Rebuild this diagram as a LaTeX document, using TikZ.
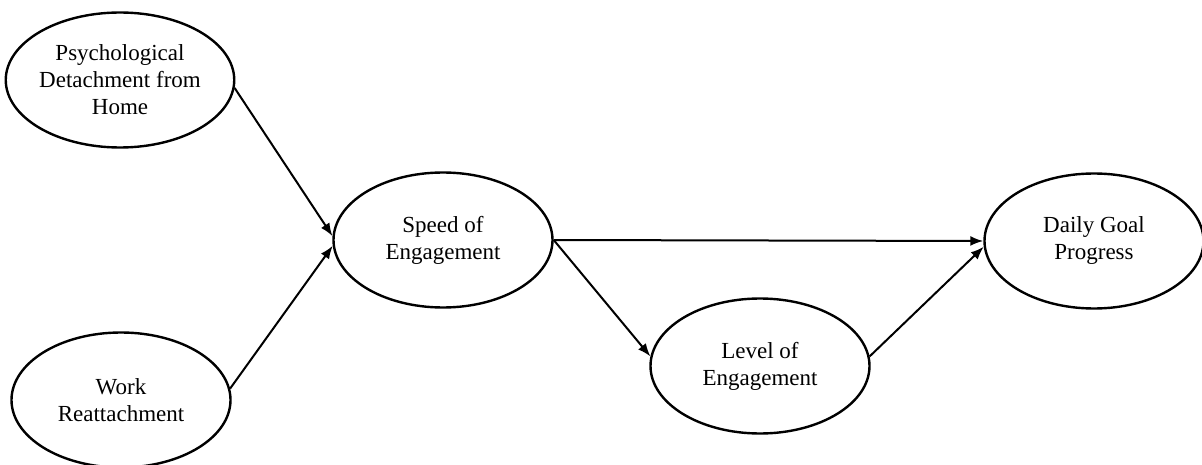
\documentclass[tikz,border=0pt]{standalone}
\usepackage{fontspec}
\setmainfont{Liberation Serif}
\usetikzlibrary{arrows.meta,shapes.geometric}

\begin{document}
\begin{tikzpicture}[x=1pt,y=-1pt,
	latent/.style	={ellipse,draw,line width=2.4pt,inner sep=0pt,minimum width=219pt,minimum height=135pt,align=center,font=\fontsize{23}{27}\selectfont},
	paths/.style	={->, line width=2pt, >={Latex[length=13pt,width=10pt]}},
	]
	\useasboundingbox (0,0) rectangle (1202,465);
	
	\node [latent] (PD) at (120,80) {Psychological\\ Detachment from\\ Home};
	\node [latent] (WR) at (121,400) {Work\\ Reattachment};
	\node [latent] (SE) at (443,240) {Speed of\\ Engagement};
	\node [latent] (LE) at (760,366) {Level of\\ Engagement};
	\node [latent] (DG) at (1094,241) {Daily Goal\\ Progress};
	
	\foreach \src/\dst in {PD.356/SE.178, WR.6/SE.183}
	{
		\draw [paths] (\src) to (\dst);
	}
	
	\draw [paths] (SE.east) to (DG.west);
	\draw [paths] (SE.east) to (LE.175);
	\draw [paths] (LE.5) to (DG.183);
\end{tikzpicture}
\end{document}
